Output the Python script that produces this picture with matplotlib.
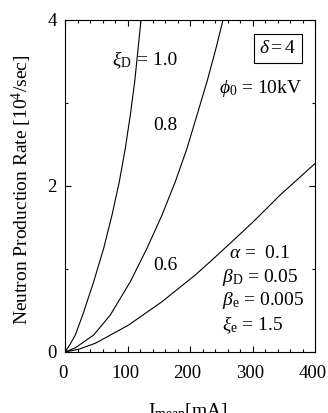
import matplotlib
matplotlib.use("Agg")
import matplotlib.pyplot as plt
from matplotlib.ticker import MultipleLocator
from matplotlib.transforms import ScaledTranslation

plt.rcParams['font.family'] = ['Liberation Serif', 'DejaVu Serif']
plt.rcParams['mathtext.fontset'] = 'custom'
plt.rcParams['mathtext.rm'] = 'Liberation Serif'
plt.rcParams['mathtext.it'] = 'Liberation Serif:italic'
plt.rcParams['mathtext.bf'] = 'Liberation Serif:bold'

# Data (I in mA, rate in 10^4/sec)
x_10 = [0, 8, 16.5, 28.3, 45.9, 61.9, 75.2, 86.9, 96.5, 104.5, 111.5, 117.0, 121.6]
y_10 = [0, 0.09, 0.205, 0.446, 0.847, 1.25, 1.65, 2.052, 2.454, 2.855, 3.257, 3.66, 4.0]

x_08 = [0, 16.5, 45.9, 72.5, 104.5, 131.2, 155.2, 176.5, 195.2, 211.2, 227.2, 241.6, 252.8]
y_08 = [0, 0.05, 0.205, 0.446, 0.847, 1.25, 1.65, 2.052, 2.454, 2.855, 3.257, 3.66, 4.0]

x_06 = [0, 21.9, 48.5, 101.9, 155.2, 208.5, 235.2, 267, 300, 344, 400]
y_06 = [0, 0.033, 0.105, 0.325, 0.606, 0.928, 1.108, 1.329, 1.56, 1.89, 2.27]

xticks = [0, 100, 200, 300, 400]
yticks = [0, 2, 4]

W, H = 328, 413
fig = plt.figure(figsize=(W / 100, H / 100), dpi=100)
ax = fig.add_axes([65 / W, 1 - 352 / H, 250 / W, 332 / H])

for xs, ys in [(x_10, y_10), (x_08, y_08), (x_06, y_06)]:
    ax.plot(xs, ys, color='black', lw=0.8)

ax.set_xlim(0, 400)
ax.set_ylim(0, 4)
ax.set_xticks(xticks)
ax.set_yticks(yticks)
ax.xaxis.set_minor_locator(MultipleLocator(20))
ax.yaxis.set_minor_locator(MultipleLocator(1))
ax.tick_params(which='both', direction='in', top=True, right=True, labelsize=13.5, width=0.8)
ax.tick_params(which='major', length=4)
ax.tick_params(which='minor', length=2.5)
ax.tick_params(axis='x', pad=9)
ax.tick_params(axis='y', pad=6)
for s in ax.spines.values():
    s.set_linewidth(0.8)

shift = ScaledTranslation(-2.5 / 100, 0, fig.dpi_scale_trans)
for lbl in ax.get_xticklabels():
    lbl.set_transform(lbl.get_transform() + shift)

fs = 14
ax.text(75, 3.46, r'$\xi_{\rm D}$', fontsize=fs, va='baseline', ha='left')
ax.text(115, 3.46, '= 1.0', fontsize=fs, va='baseline', ha='left')
ax.text(141, 2.675, '0.8', fontsize=fs, va='baseline', ha='left')
ax.text(141, 0.988, '0.6', fontsize=fs, va='baseline', ha='left')
ax.text(311, 3.6, r'$\delta = 4$', fontsize=fs, va='baseline', ha='left',
        bbox=dict(boxstyle='square,pad=0.3', fc='white', ec='black', lw=0.8))
ax.text(246, 3.12, r'$\phi_0$ = 10kV', fontsize=fs, va='baseline', ha='left')
ax.text(262, 1.133, r'$\alpha$ =  0.1', fontsize=fs, va='baseline', ha='left')
ax.text(251, 0.843, r'$\beta_{\rm D}$ = 0.05', fontsize=fs, va='baseline', ha='left')
ax.text(251, 0.566, r'$\beta_{\rm e}$ = 0.005', fontsize=fs, va='baseline', ha='left')
ax.text(251, 0.265, r'$\xi_{\rm e}$ = 1.5', fontsize=fs, va='baseline', ha='left')

fig.text(148 / W, -3 / H, r'I$_{\rm mean}$[mA]', fontsize=fs, va='baseline', ha='left')
fig.text(22 / W, 1 - 190 / H, r'Neutron Production Rate [10$^4$/sec]', fontsize=fs,
         rotation=90, va='center', ha='center')

fig.savefig('out.png', dpi=100)
